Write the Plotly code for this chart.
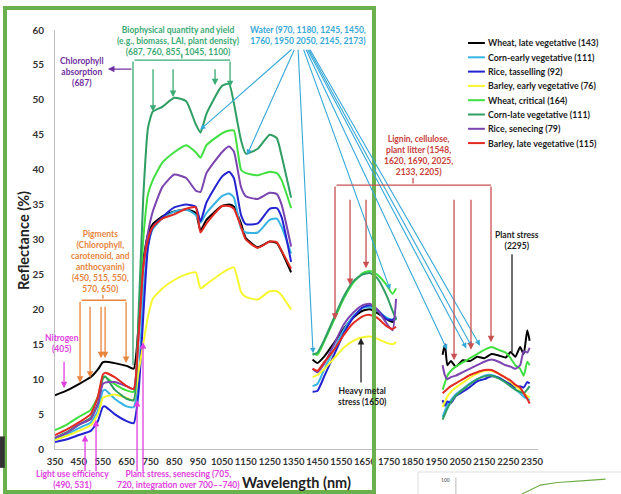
import plotly.graph_objects as go

# ---------------- data ----------------
WL_VNIR = [350, 400, 450, 500, 530, 550, 560, 600, 650, 680, 700, 720, 740, 760, 800, 850, 900,
           940, 960, 985, 1050, 1080, 1100, 1130, 1150, 1200, 1250, 1280, 1300, 1340]
WL_SWIR1 = [1430, 1450, 1480, 1520, 1560, 1600, 1640, 1670, 1700, 1740, 1765, 1780]
WL_SWIR2 = [1975, 1985, 1995, 2010, 2030, 2060, 2090, 2120, 2150, 2180, 2210, 2240, 2260, 2280,
            2300, 2315, 2330, 2340]

SERIES_NAMES = ["Wheat, late vegetative (143)", "Corn-early vegetative (111)", "Rice, tasselling (92)",
                "Barley, early vegetative (76)", "Wheat, critical (164)", "Corn-late vegetative (111)",
                "Rice, senecing (79)", "Barley, late vegetative (115)"]
SERIES_COLORS = ["#000000", "#38B4E4", "#2323D2", "#F7F72E", "#3FE03F", "#2E9E62", "#7B44B0", "#E32A22"]

WHEAT_LATE_VEG = [7.7, 8.4, 9.3, 10.3, 11.4, 12.4, 12.5, 12.3, 11.9, 11.5, 17.5, 27.0, 30.8, 32.2, 33.3, 34.0, 34.3,
                  33.8, 31.3, 32.8, 34.8, 35.0, 34.7, 32.3, 30.2, 28.9, 29.7, 29.5, 28.3, 25.3,
                  12.8, 12.3, 13.3, 15.2, 17.2, 18.8, 19.8, 20.0, 19.5, 18.6, 18.2, 18.8,
                  13.5, 15.0, 12.0, 12.6, 11.8, 12.7, 12.6, 13.2, 13.0, 13.6, 13.4, 13.1, 13.9, 13.2, 14.6, 13.6, 17.0, 15.5]
CORN_EARLY_VEG = [1.5, 2.1, 3.0, 3.8, 5.5, 8.3, 8.5, 7.2, 6.1, 6.0, 10.0, 22.0, 29.0, 31.5, 33.0, 34.0, 34.3,
                  33.5, 32.4, 33.8, 36.2, 36.6, 36.0, 31.6, 31.0, 31.0, 32.8, 33.0, 31.8, 28.0,
                  9.0, 9.3, 11.5, 14.3, 17.0, 19.0, 20.2, 20.3, 19.8, 18.8, 18.5, 18.7,
                  4.6, 5.5, 6.3, 7.0, 7.8, 8.6, 9.4, 10.0, 10.5, 10.6, 10.2, 9.6, 9.0, 8.5, 8.0, 7.5, 7.2, 7.0]
RICE_TASSELLING = [1.0, 1.4, 2.0, 2.6, 4.0, 6.0, 6.1, 5.0, 4.0, 3.7, 8.0, 19.0, 29.0, 31.8, 33.2, 34.6, 35.0,
                   34.7, 32.6, 35.3, 39.0, 39.7, 38.8, 33.5, 32.2, 32.3, 34.4, 34.5, 33.2, 26.8,
                   8.2, 8.3, 10.5, 13.5, 16.5, 18.8, 20.3, 20.6, 20.0, 18.6, 18.5, 19.0,
                   7.0, 6.2, 6.8, 6.6, 7.6, 8.2, 8.9, 9.7, 10.0, 10.4, 10.2, 9.6, 9.3, 8.8, 9.0, 8.8, 9.6, 9.4]
BARLEY_EARLY_VEG = [1.3, 1.9, 2.6, 3.4, 5.0, 7.3, 7.5, 7.8, 7.3, 7.0, 11.0, 15.0, 19.0, 21.5, 23.0, 24.2, 25.0,
                    25.3, 23.0, 23.6, 25.2, 25.8, 26.0, 22.5, 21.8, 21.4, 22.6, 22.6, 22.0, 20.0,
                    10.3, 10.6, 11.5, 13.0, 14.5, 15.5, 16.0, 16.1, 15.8, 15.2, 15.0, 15.3,
                    6.0, 6.8, 7.5, 8.2, 8.8, 9.5, 10.2, 10.8, 11.2, 11.2, 10.8, 10.2, 9.6, 9.0, 8.5, 8.0, 7.6, 7.4]
WHEAT_CRITICAL = [2.7, 3.5, 4.6, 5.6, 7.5, 10.2, 10.3, 9.3, 8.4, 8.2, 18.0, 30.0, 36.5, 38.5, 41.0, 42.5, 43.5,
                  42.5, 41.7, 43.5, 45.2, 45.6, 45.6, 40.0, 39.5, 39.2, 39.7, 39.5, 38.5, 34.5,
                  13.7, 13.5, 15.5, 18.5, 21.5, 23.8, 25.2, 25.5, 25.0, 23.5, 22.2, 23.0,
                  8.5, 9.5, 10.5, 11.2, 11.8, 12.4, 13.0, 13.6, 14.2, 14.6, 14.2, 13.8, 13.0, 12.0, 11.5, 10.5, 12.5, 12.0]
CORN_LATE_VEG = [1.6, 2.4, 3.5, 4.5, 6.5, 10.0, 10.4, 8.5, 7.2, 7.0, 19.0, 36.0, 46.0, 48.3, 49.0, 50.3, 49.8,
                 46.5, 45.3, 48.0, 52.0, 52.3, 49.5, 44.2, 42.3, 43.0, 45.0, 44.5, 42.0, 36.0,
                 13.5, 13.8, 15.7, 18.8, 21.8, 24.0, 25.0, 25.2, 24.5, 22.0, 19.8, 18.5,
                 4.2, 5.0, 5.8, 6.7, 7.6, 8.5, 9.3, 10.0, 10.4, 10.5, 10.1, 9.5, 9.0, 8.5, 8.2, 8.0, 8.5, 9.0]
RICE_SENECING = [1.6, 2.3, 3.5, 4.3, 6.5, 9.3, 9.5, 9.6, 9.0, 8.6, 16.0, 26.0, 31.0, 34.0, 37.5, 39.3, 38.8,
                 37.0, 36.8, 39.5, 42.5, 43.3, 42.6, 37.5, 36.2, 35.8, 36.7, 36.5, 35.0, 29.0,
                 11.5, 11.0, 12.3, 15.0, 17.8, 19.5, 20.6, 20.8, 20.0, 18.0, 17.0, 21.5,
                 12.0, 10.5, 10.0, 10.3, 10.5, 11.0, 11.5, 12.0, 12.5, 12.8, 12.5, 12.0, 11.8, 11.5, 12.0, 14.0, 13.8, 14.5]
BARLEY_LATE_VEG = [2.0, 2.8, 3.8, 5.0, 7.5, 10.6, 10.9, 10.3, 9.0, 8.6, 16.0, 26.0, 30.0, 31.8, 33.0, 33.6, 34.4,
                   34.6, 31.0, 32.3, 34.8, 34.8, 34.4, 31.8, 30.0, 28.8, 29.7, 29.6, 28.4, 25.8,
                   11.5, 11.2, 12.5, 14.2, 16.3, 18.0, 19.0, 19.2, 18.8, 17.6, 17.2, 17.5,
                   8.0, 8.3, 8.6, 9.0, 9.4, 10.0, 10.6, 11.0, 11.3, 11.3, 10.8, 10.2, 9.8, 9.2, 8.8, 8.0, 7.2, 6.5]

SERIES_VALUES = [WHEAT_LATE_VEG, CORN_EARLY_VEG, RICE_TASSELLING, BARLEY_EARLY_VEG,
                 WHEAT_CRITICAL, CORN_LATE_VEG, RICE_SENECING, BARLEY_LATE_VEG]

X_TICKS = list(range(350, 2351, 100))
Y_TICKS = list(range(0, 61, 5))

# ---------------- figure ----------------
FONT = "Lato"
n1, n2 = len(WL_VNIR), len(WL_SWIR1)
x_all = WL_VNIR + [1390] + WL_SWIR1 + [1870] + WL_SWIR2

fig = go.Figure()
for name, color, vals in zip(SERIES_NAMES, SERIES_COLORS, SERIES_VALUES):
    y_all = vals[:n1] + [None] + vals[n1:n1 + n2] + [None] + vals[n1 + n2:]
    fig.add_trace(go.Scatter(x=x_all, y=y_all, mode="lines", name=name, showlegend=False,
                             connectgaps=False,
                             line=dict(color=color, width=2, shape="spline", smoothing=0.5)))

ann = []
shapes = []


def txt(x, y, s, color, size=8.5, xref="x", yref="y", xanchor="center", yanchor="middle", angle=0):
    ann.append(dict(x=x, y=y, xref=xref, yref=yref, text=s, showarrow=False, xanchor=xanchor,
                    yanchor=yanchor, textangle=angle, align="center",
                    font=dict(family=FONT, size=size, color=color, weight="bold")))


def arr(x0, y0, x1, y1, color, head=True, width=1.3):
    ann.append(dict(x=x1, y=y1, ax=x0, ay=y0, xref="x", yref="y", axref="x", ayref="y", text="",
                    showarrow=True, arrowhead=2 if head else 0, arrowsize=1, arrowwidth=width,
                    arrowcolor=color, standoff=0, startstandoff=0))


# Chlorophyll absorption
C_PUR = "#7030A0"
txt(463, 54.0, "Chlorophyll<br>absorption<br>(687)", C_PUR)
arr(677, 54.4, 572, 54.4, C_PUR)

# Biophysical quantity and yield
C_BIO = "#3BAA74"
txt(866, 58.4, "Biophysical quantity and yield<br>(e.g., biomass, LAI, plant density)<br>(687, 760, 855, 1045, 1100)", C_BIO)
arr(677, 55.7, 1084, 55.7, C_BIO, head=False)
arr(882, 55.7, 882, 56.5, C_BIO, head=False)
arr(677, 55.7, 677, 12.0, C_BIO, head=False)
arr(1084, 55.7, 1084, 51.8, C_BIO)
for wl_, tip in [(761, 48.3), (845, 50.4), (1021, 52.1)]:
    arr(wl_, 54.6, wl_, tip, C_BIO)

# Water
C_WAT = "#35A8D8"
txt(1411, 59.2, "Water (970, 1180, 1245, 1450,<br>1760, 1950 2050, 2145, 2173)", C_WAT)
for x0, x1, y1 in [(1348, 958, 45.7), (1356, 1155, 42.1), (1369, 1432, 13.7), (1390, 1755, 22.8),
                   (1400, 1994, 14.2), (1406, 2075, 14.4), (1411, 2098, 14.6), (1416, 2132, 14.8)]:
    arr(x0, 57.4, x1, y1, C_WAT, width=1.1)

# Pigments
C_PIG = "#E8853D"
txt(539, 26.8, "Pigments<br>(Chlorophyll,<br>carotenoid, and<br>anthocyanin)<br>(450, 515, 550,<br>570, 650)", C_PIG)
arr(455, 21.3, 648, 21.3, C_PIG, head=False)
arr(551, 21.3, 551, 22.1, C_PIG, head=False)
arr(455, 21.3, 455, 9.5, C_PIG)
arr(648, 21.3, 648, 12.3, C_PIG)
for wl_, tip in [(497, 10.2), (543, 13.0), (560, 13.0)]:
    arr(wl_, 20.6, wl_, tip, C_PIG)

# Nitrogen / light use / plant stress (magenta)
C_MAG = "#E040E0"
txt(379, 15.1, "Nitrogen<br>(405)", C_MAG)
arr(388, 12.7, 388, 8.7, C_MAG)
txt(425, -0.0728, "Light use efficiency<br>(490, 531)", C_MAG, yref="paper")
arr(476, -3.4, 476, 2.0, C_MAG)
arr(522, -3.4, 522, 4.2, C_MAG)
txt(866, -0.0728, "Plant stress, senescing (705,<br>720, integration over 700–‒740)", C_MAG, yref="paper")
arr(694, -3.4, 694, 7.0, C_MAG)
arr(719, -3.4, 719, 15.3, C_MAG)

# Lignin
C_LIG = "#C8403A"
C_LIGL = "#C85050"
txt(1872, 42.0, "Lignin, cellulose,<br>plant litter (1548,<br>1620, 1690, 2025,<br>2133, 2205)", C_LIG)
arr(1524, 37.8, 2178, 37.8, C_LIGL, head=False)
arr(1851, 37.8, 1851, 38.8, C_LIGL, head=False)
arr(1524, 37.8, 1524, 18.5, C_LIGL)
arr(2178, 37.8, 2178, 15.3, C_LIGL)
for wl_, tip in [(1587, 23.5), (1654, 25.9), (2023, 12.7), (2094, 14.2)]:
    arr(wl_, 35.9, wl_, tip, C_LIGL)

# Plant stress 2295 / heavy metal
txt(2287, 29.9, "Plant stress<br>(2295)", "#222222")
arr(2266, 28.1, 2266, 13.9, "#222222", head=False)
txt(1641, 7.5, "Heavy metal<br>stress (1650)", "#222222")
arr(1633, 9.3, 1633, 15.9, "#222222")

# Axis titles
txt(0.499, -0.0788, "Wavelength (nm)", "#222222", size=14.5, xref="paper", yref="paper")
txt(-0.0663, 0.4988, "Reflectance (%)", "#222222", size=14.5, xref="paper", yref="paper", angle=-90)

# Legend (custom, to match the compact layout)
for i, (name, color) in enumerate(zip(SERIES_NAMES, SERIES_COLORS)):
    yp = (449 - (43 + i * 14.3)) / 419
    shapes.append(dict(type="line", xref="paper", yref="paper", x0=0.855, x1=0.890, y0=yp, y1=yp,
                       line=dict(color=color, width=2)))
    txt(0.893, yp, name, "#1a1a1a", size=8.8, xref="paper", yref="paper", xanchor="left")

# Slide frame (green border) and partial inset at bottom-right
shapes.append(dict(type="rect", xref="paper", yref="paper", x0=-0.1035, x1=0.6605, y0=-0.1026, y1=1.0525,
                   line=dict(color="#6AB04C", width=4), layer="above"))
shapes.append(dict(type="rect", xref="paper", yref="paper", x0=0.7516, x1=1.2, y0=-0.13, y1=-0.0549,
                   line=dict(color="#DDDDDD", width=1), layer="above"))
shapes.append(dict(type="line", xref="paper", yref="paper", x0=0.83, x1=0.83, y0=-0.12, y1=-0.068,
                   line=dict(color="#BBBBBB", width=1)))
shapes.append(dict(type="path", xref="paper", yref="paper",
                   path="M 0.966 -0.108 L 1.005 -0.086 L 1.04 -0.08 L 1.09 -0.076 L 1.14 -0.072",
                   line=dict(color="#70AD47", width=1.2)))
txt(0.808, -0.073, "100", "#777777", size=5, xref="paper", yref="paper")
shapes.append(dict(type="path", xref="paper", yref="paper",
                   path="M -0.114 -0.045 L -0.104 -0.045 L -0.104 0.03 L -0.114 0.03 Z",
                   fillcolor="#333333", line=dict(width=0)))

fig.update_layout(
    width=621, height=494, autosize=False,
    margin=dict(l=55, r=83, t=30, b=45),
    paper_bgcolor="white", plot_bgcolor="white",
    annotations=ann, shapes=shapes, showlegend=False,
    xaxis=dict(range=[350, 2375], tickvals=X_TICKS, ticktext=[str(v) for v in X_TICKS], tickangle=0,
               showgrid=False, zeroline=False, showline=True, linecolor="#BFBFBF", linewidth=1,
               ticks="", ticklabelstandoff=4,
               tickfont=dict(family=FONT, size=9.5, color="#333333", weight="bold")),
    yaxis=dict(range=[0, 60], tickvals=Y_TICKS, showgrid=False, zeroline=False, showline=True,
               linecolor="#BFBFBF", linewidth=1, ticks="", ticklabelstandoff=8,
               tickfont=dict(family=FONT, size=10, color="#333333", weight="bold")),
)

fig.write_html("out.html", config={"displayModeBar": False},
               post_script="document.body.style.margin='0px';document.body.style.overflow='hidden';")
